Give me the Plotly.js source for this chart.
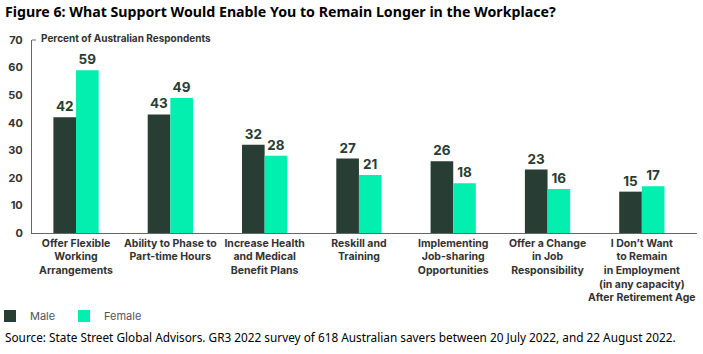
<!DOCTYPE html>
<html><head><meta charset="utf-8">
<script src="https://cdn.plot.ly/plotly-3.0.1.min.js"></script>
<style>html,body{margin:0;padding:0;background:#fff}#chart{width:703px;height:354px}</style>
</head><body><div id="chart"></div>
<script>
const categories = [
  "Offer Flexible<br>Working<br>Arrangements",
  "Ability to Phase to<br>Part-time Hours",
  "Increase Health<br>and Medical<br>Benefit Plans",
  "Reskill and<br>Training",
  "Implementing<br>Job-sharing<br>Opportunities",
  "Offer a Change<br>in Job<br>Responsibility",
  "I Don’t Want<br>to Remain<br>in Employment<br>(in any capacity)<br>After Retirement Age"
];
const male = [42, 43, 32, 27, 26, 23, 15];
const female = [59, 49, 28, 21, 18, 16, 17];
const yTicks = [0, 10, 20, 30, 40, 50, 60, 70];

const dark = "#283d33";
const bright = "#02efb0";
const F = "Inter, Roboto, sans-serif";

const traces = [
  {type:"bar", name:"Male", x:categories, y:male, marker:{color:dark},
   text:male.map(String), textposition:"outside", cliponaxis:false,
   textfont:{family:F, size:13.5, color:dark, weight:700}},
  {type:"bar", name:"Female", x:categories, y:female, marker:{color:bright},
   text:female.map(String), textposition:"outside", cliponaxis:false,
   textfont:{family:F, size:13.5, color:dark, weight:700}}
];

const layout = {
  width:703, height:354,
  margin:{l:32, r:6, t:40, b:121, autoexpand:false},
  paper_bgcolor:"#fff", plot_bgcolor:"#fff",
  barmode:"group", bargap:0.52, bargroupgap:0,
  showlegend:true,
  legend:{orientation:"h", xref:"container", yref:"container", x:0, xanchor:"left", y:0.107, yanchor:"middle",
          indentation:-10, entrywidth:39, entrywidthmode:"pixels",
          font:{family:F, size:11, color:"#555"}, tracegroupgap:0},
  xaxis:{type:"category", range:[-0.467, 6.585], showline:true, linecolor:"#666", linewidth:1,
         ticks:"", tickangle:0, automargin:false,
         tickfont:{family:F, size:10.5, color:"#333", weight:700}},
  yaxis:{range:[0,70], tickvals:yTicks, showgrid:false, zeroline:false, automargin:false,
         showline:true, linecolor:"#666", linewidth:1, ticks:"", ticklabelstandoff:6,
         tickfont:{family:F, size:11, color:"#333", weight:700}},
  annotations:[
    {xref:"paper", yref:"paper", x:0.01, y:1.01, xanchor:"left", yanchor:"middle",
     text:"Percent of Australian Respondents", showarrow:false,
     font:{family:F, size:10, color:"#333", weight:700}},
    {xref:"paper", yref:"paper", x:-0.043, y:1.147, xanchor:"left", yanchor:"middle",
     text:"<b>Figure 6: What Support Would Enable You to Remain Longer in the Workplace?</b>", showarrow:false,
     font:{family:"Noto Sans, sans-serif", size:14.2, color:"#000"}},
    {xref:"paper", yref:"paper", x:-0.043, y:-0.54, xanchor:"left", yanchor:"middle",
     text:"Source: State Street Global Advisors. GR3 2022 survey of 618 Australian savers between 20 July 2022, and 22 August 2022.", showarrow:false,
     font:{family:"Noto Sans, sans-serif", size:11.8, color:"#000"}}
  ],
  shapes:[
    {type:"line", xref:"paper", yref:"paper", x0:0, x1:0.006, y0:1, y1:1, line:{color:"#666", width:1}}
  ]
};

Plotly.newPlot("chart", traces, layout, {displayModeBar:false, staticPlot:true});
</script></body></html>
